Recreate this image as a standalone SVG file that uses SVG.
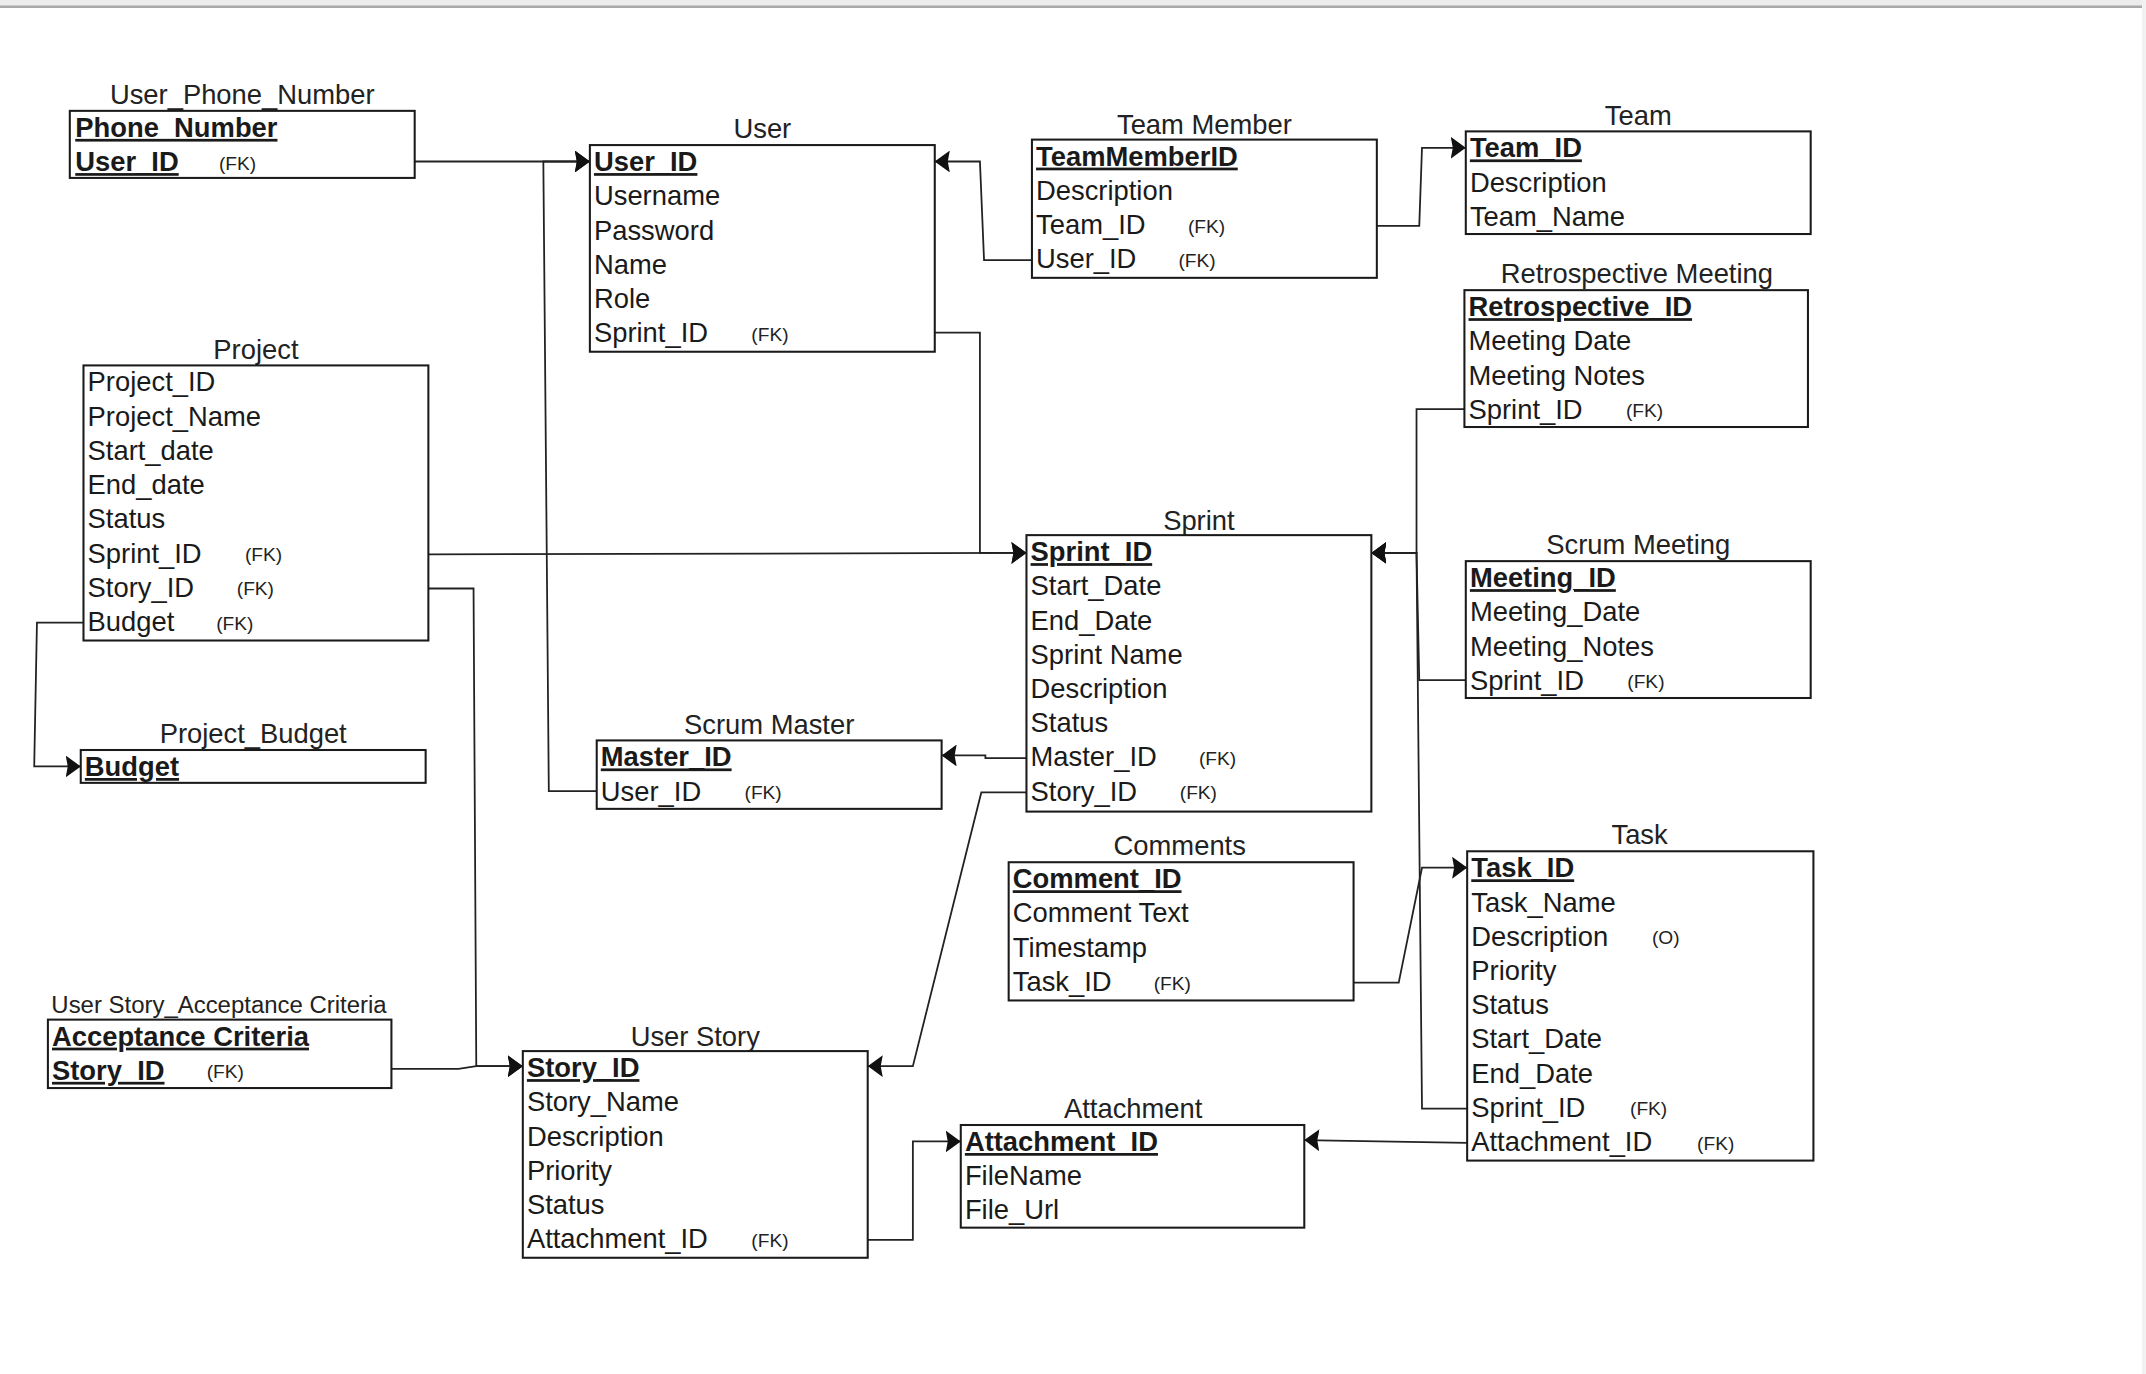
<svg xmlns="http://www.w3.org/2000/svg" width="2146" height="1374" viewBox="0 0 2146 1374">
<style>
.box{fill:#fff;stroke:#1a1a1a;stroke-width:1.5}
.t{font-family:"Liberation Sans",Arial,sans-serif;font-size:20px;fill:#1a1a1a}
.title{font-family:"Liberation Sans",Arial,sans-serif;font-size:20px;fill:#222;text-anchor:middle}
.pk{font-weight:bold;text-decoration:underline}
.fk{font-family:"Liberation Sans",Arial,sans-serif;font-size:14px;fill:#222}
.c{fill:none;stroke:#222;stroke-width:1.3}
</style>
<defs>
<marker id="arr" markerUnits="userSpaceOnUse" markerWidth="11" markerHeight="16" viewBox="0 0 11 16" refX="11" refY="8" orient="auto">
<path d="M0,0 L11,8 L0,16 L1.5,8 Z" fill="#111"/>
</marker>
</defs>
<rect x="0" y="0" width="2146" height="1374" fill="#fff"/>
<rect x="0" y="0" width="2146" height="6" fill="#ececec"/>
<rect x="0" y="5.5" width="2142" height="2.5" fill="#a9a9a9"/>
<rect x="2142" y="0" width="4" height="1374" fill="#f2f2f2"/>
<g transform="scale(1.36862)">
<g id="connectors">
<path class="c" d="M303,118 H431" marker-end="url(#arr)"/>
<path class="c" d="M436,578 H401 L397,118 H431" marker-end="url(#arr)"/>
<path class="c" d="M754,190 H719 L716,118 H683" marker-end="url(#arr)"/>
<path class="c" d="M1006,165 H1037 L1039,108 H1071" marker-end="url(#arr)"/>
<path class="c" d="M683,243 H716 V404 H750" marker-end="url(#arr)"/>
<path class="c" d="M313,405 L750,404" marker-end="url(#arr)"/>
<path class="c" d="M313,430 H346 L348,779 H382" marker-end="url(#arr)"/>
<path class="c" d="M286,781 H335 L348,779 H382" marker-end="url(#arr)"/>
<path class="c" d="M61,455 H27 L25,560 H59" marker-end="url(#arr)"/>
<path class="c" d="M750,554 H720 V552 H688" marker-end="url(#arr)"/>
<path class="c" d="M750,579 H717 L667,779 H634" marker-end="url(#arr)"/>
<path class="c" d="M1070,299 H1035 V404 H1002" marker-end="url(#arr)"/>
<path class="c" d="M1071,497 H1037 L1035,404 H1002" marker-end="url(#arr)"/>
<path class="c" d="M1072,810 H1039 L1035,404 H1002" marker-end="url(#arr)"/>
<path class="c" d="M989,718 H1022 L1039,634 H1072" marker-end="url(#arr)"/>
<path class="c" d="M1072,835 L953,833" marker-end="url(#arr)"/>
<path class="c" d="M634,906 H667 V834 H702" marker-end="url(#arr)"/>
</g>
<g id="user_phone_number">
<text class="title" x="177" y="76">User_Phone_Number</text>
<rect class="box" x="51" y="81" width="252" height="49"/>
<text class="t pk" x="55" y="100">Phone_Number</text>
<text class="t pk" x="55" y="125">User_ID</text>
<text class="fk" x="160" y="124">(FK)</text>
</g>
<g id="user">
<text class="title" x="557" y="101">User</text>
<rect class="box" x="431" y="106" width="252" height="151"/>
<text class="t pk" x="434" y="125">User_ID</text>
<text class="t" x="434" y="150">Username</text>
<text class="t" x="434" y="175">Password</text>
<text class="t" x="434" y="200">Name</text>
<text class="t" x="434" y="225">Role</text>
<text class="t" x="434" y="250">Sprint_ID</text>
<text class="fk" x="549" y="249">(FK)</text>
</g>
<g id="team_member">
<text class="title" x="880" y="98">Team Member</text>
<rect class="box" x="754" y="102" width="252" height="101"/>
<text class="t pk" x="757" y="121">TeamMemberID</text>
<text class="t" x="757" y="146">Description</text>
<text class="t" x="757" y="171">Team_ID</text>
<text class="fk" x="868" y="170">(FK)</text>
<text class="t" x="757" y="196">User_ID</text>
<text class="fk" x="861" y="195">(FK)</text>
</g>
<g id="team">
<text class="title" x="1197" y="91">Team</text>
<rect class="box" x="1071" y="96" width="252" height="75"/>
<text class="t pk" x="1074" y="115">Team_ID</text>
<text class="t" x="1074" y="140">Description</text>
<text class="t" x="1074" y="165">Team_Name</text>
</g>
<g id="retrospective_meeting">
<text class="title" x="1196" y="207">Retrospective Meeting</text>
<rect class="box" x="1070" y="212" width="251" height="100"/>
<text class="t pk" x="1073" y="231">Retrospective_ID</text>
<text class="t" x="1073" y="256">Meeting Date</text>
<text class="t" x="1073" y="281">Meeting Notes</text>
<text class="t" x="1073" y="306">Sprint_ID</text>
<text class="fk" x="1188" y="305">(FK)</text>
</g>
<g id="project">
<text class="title" x="187" y="262">Project</text>
<rect class="box" x="61" y="267" width="252" height="201"/>
<text class="t" x="64" y="286">Project_ID</text>
<text class="t" x="64" y="311">Project_Name</text>
<text class="t" x="64" y="336">Start_date</text>
<text class="t" x="64" y="361">End_date</text>
<text class="t" x="64" y="386">Status</text>
<text class="t" x="64" y="411">Sprint_ID</text>
<text class="fk" x="179" y="410">(FK)</text>
<text class="t" x="64" y="436">Story_ID</text>
<text class="fk" x="173" y="435">(FK)</text>
<text class="t" x="64" y="461">Budget</text>
<text class="fk" x="158" y="460">(FK)</text>
</g>
<g id="sprint">
<text class="title" x="876" y="387">Sprint</text>
<rect class="box" x="750" y="391" width="252" height="202"/>
<text class="t pk" x="753" y="410">Sprint_ID</text>
<text class="t" x="753" y="435">Start_Date</text>
<text class="t" x="753" y="460">End_Date</text>
<text class="t" x="753" y="485">Sprint Name</text>
<text class="t" x="753" y="510">Description</text>
<text class="t" x="753" y="535">Status</text>
<text class="t" x="753" y="560">Master_ID</text>
<text class="fk" x="876" y="559">(FK)</text>
<text class="t" x="753" y="585">Story_ID</text>
<text class="fk" x="862" y="584">(FK)</text>
</g>
<g id="scrum_meeting">
<text class="title" x="1197" y="405">Scrum Meeting</text>
<rect class="box" x="1071" y="410" width="252" height="100"/>
<text class="t pk" x="1074" y="429">Meeting_ID</text>
<text class="t" x="1074" y="454">Meeting_Date</text>
<text class="t" x="1074" y="479">Meeting_Notes</text>
<text class="t" x="1074" y="504">Sprint_ID</text>
<text class="fk" x="1189" y="503">(FK)</text>
</g>
<g id="project_budget">
<text class="title" x="185" y="543">Project_Budget</text>
<rect class="box" x="59" y="548" width="252" height="24"/>
<text class="t pk" x="62" y="567">Budget</text>
</g>
<g id="scrum_master">
<text class="title" x="562" y="536">Scrum Master</text>
<rect class="box" x="436" y="541" width="252" height="50"/>
<text class="t pk" x="439" y="560">Master_ID</text>
<text class="t" x="439" y="585">User_ID</text>
<text class="fk" x="544" y="584">(FK)</text>
</g>
<g id="comments">
<text class="title" x="862" y="625">Comments</text>
<rect class="box" x="737" y="630" width="252" height="101"/>
<text class="t pk" x="740" y="649">Comment_ID</text>
<text class="t" x="740" y="674">Comment Text</text>
<text class="t" x="740" y="699">Timestamp</text>
<text class="t" x="740" y="724">Task_ID</text>
<text class="fk" x="843" y="723">(FK)</text>
</g>
<g id="task">
<text class="title" x="1198" y="617">Task</text>
<rect class="box" x="1072" y="622" width="253" height="226"/>
<text class="t pk" x="1075" y="641">Task_ID</text>
<text class="t" x="1075" y="666">Task_Name</text>
<text class="t" x="1075" y="691">Description</text>
<text class="fk" x="1207" y="690">(O)</text>
<text class="t" x="1075" y="716">Priority</text>
<text class="t" x="1075" y="741">Status</text>
<text class="t" x="1075" y="766">Start_Date</text>
<text class="t" x="1075" y="791">End_Date</text>
<text class="t" x="1075" y="816">Sprint_ID</text>
<text class="fk" x="1191" y="815">(FK)</text>
<text class="t" x="1075" y="841">Attachment_ID</text>
<text class="fk" x="1240" y="840">(FK)</text>
</g>
<g id="user_story_acceptance_criteria">
<text class="title" x="160" y="740" style="font-size:17.5px">User Story_Acceptance Criteria</text>
<rect class="box" x="35" y="745" width="251" height="50"/>
<text class="t pk" x="38" y="764">Acceptance Criteria</text>
<text class="t pk" x="38" y="789">Story_ID</text>
<text class="fk" x="151" y="788">(FK)</text>
</g>
<g id="user_story">
<text class="title" x="508" y="764">User Story</text>
<rect class="box" x="382" y="768" width="252" height="151"/>
<text class="t pk" x="385" y="787">Story_ID</text>
<text class="t" x="385" y="812">Story_Name</text>
<text class="t" x="385" y="837">Description</text>
<text class="t" x="385" y="862">Priority</text>
<text class="t" x="385" y="887">Status</text>
<text class="t" x="385" y="912">Attachment_ID</text>
<text class="fk" x="549" y="911">(FK)</text>
</g>
<g id="attachment">
<text class="title" x="828" y="817">Attachment</text>
<rect class="box" x="702" y="822" width="251" height="75"/>
<text class="t pk" x="705" y="841">Attachment_ID</text>
<text class="t" x="705" y="866">FileName</text>
<text class="t" x="705" y="891">File_Url</text>
</g>
</g>
</svg>
